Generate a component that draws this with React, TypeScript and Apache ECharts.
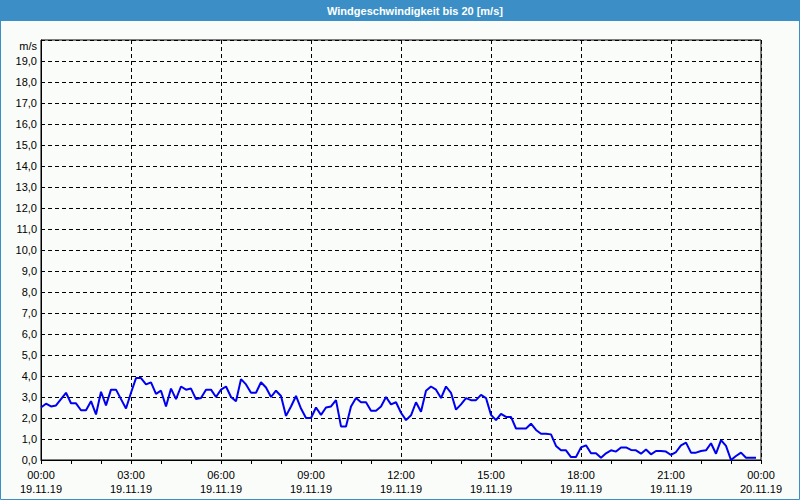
import React, { useEffect, useRef } from "react";
import * as echarts from "echarts";

const chartTitle = "Windgeschwindigkeit bis 20 [m/s]";
const unitLabel = "m/s";
const stepMinutes = 10;
const xTimeLabels = ["00:00", "03:00", "06:00", "09:00", "12:00", "15:00", "18:00", "21:00", "00:00"];
const xDateLabels = ["19.11.19", "19.11.19", "19.11.19", "19.11.19", "19.11.19", "19.11.19", "19.11.19", "19.11.19", "20.11.19"];
const windSpeed = [
  2.5, 2.68, 2.55, 2.6, 2.9, 3.2, 2.7, 2.7, 2.37, 2.37, 2.8, 2.17, 3.25, 2.6, 3.35, 3.35, 2.9, 2.45, 3.2, 3.9, 3.9, 3.6, 3.7, 3.15,
  3.3, 2.55, 3.4, 2.9, 3.5, 3.35, 3.4, 2.9, 2.95, 3.35, 3.35, 3.0, 3.35, 3.5, 3.0, 2.8, 3.85, 3.6, 3.2, 3.2, 3.7, 3.45, 3.0, 3.3,
  3.05, 2.1, 2.55, 3.05, 2.45, 2.0, 2.0, 2.5, 2.15, 2.5, 2.55, 2.85, 1.6, 1.6, 2.55, 2.95, 2.75, 2.75, 2.35, 2.35, 2.55, 3.0, 2.65, 2.75,
  2.25, 1.9, 2.13, 2.75, 2.3, 3.3, 3.5, 3.35, 2.95, 3.5, 3.2, 2.4, 2.65, 2.95, 2.85, 2.85, 3.1, 2.95, 2.15, 1.9, 2.2, 2.05, 2.05, 1.5,
  1.5, 1.5, 1.73, 1.43, 1.25, 1.25, 1.22, 0.67, 0.46, 0.46, 0.14, 0.14, 0.6, 0.7, 0.32, 0.32, 0.11, 0.32, 0.46, 0.4, 0.6, 0.6, 0.48, 0.46,
  0.3, 0.5, 0.27, 0.43, 0.43, 0.4, 0.24, 0.38, 0.7, 0.83, 0.35, 0.35, 0.43, 0.46, 0.8, 0.3, 0.95, 0.67, 0.0, 0.19, 0.35, 0.11, 0.11, 0.11,
];

const FONT = "Liberation Sans";

export default function App() {
  const ref = useRef<HTMLDivElement>(null);
  useEffect(() => {
    document.body.style.margin = "0";
    const chart = echarts.init(ref.current!, null, { renderer: "svg" });
    const data = windSpeed.map((v, i) => [i * stepMinutes, v]);
    chart.setOption({
      animation: false,
      backgroundColor: "#fafcfa",
      grid: {
        left: 41,
        right: 39,
        top: 40,
        bottom: 40,
        show: true,
        borderColor: "#000",
        borderWidth: 1,
        backgroundColor: "transparent",
      },
      graphic: [
        { type: "rect", shape: { x: 0, y: 0, width: 800, height: 21 }, style: { fill: "#3b8fc6" }, z: 10 },
        {
          type: "rect",
          shape: { x: 0.5, y: 0.5, width: 799, height: 499 },
          style: { fill: "none", stroke: "#3b8fc6", lineWidth: 1 },
          z: 10,
        },
        {
          type: "text",
          x: 415,
          y: 10.5,
          z: 11,
          style: {
            text: chartTitle,
            fill: "#fff",
            font: `bold 11px "${FONT}"`,
            textAlign: "center",
            textVerticalAlign: "middle",
          },
        },
        {
          type: "text",
          x: 37,
          y: 46,
          z: 11,
          style: {
            text: unitLabel,
            fill: "#000",
            font: `11px "${FONT}"`,
            textAlign: "right",
            textVerticalAlign: "middle",
          },
        },
      ],
      xAxis: {
        type: "value",
        min: 0,
        max: 1440,
        interval: 180,
        axisLine: { show: true, lineStyle: { color: "#000", width: 1 } },
        axisTick: { show: true, length: 4, lineStyle: { color: "#000" } },
        minorTick: { show: true, splitNumber: 3, length: 4, lineStyle: { color: "#000" } },
        splitLine: { show: true, lineStyle: { color: "#000", type: [4, 3], width: 1 } },
        axisLabel: {
          margin: 8,
          color: "#000",
          fontFamily: FONT,
          fontSize: 11,
          lineHeight: 14,
          showMinLabel: true,
          showMaxLabel: true,
          formatter: (v: number) => {
            const idx = Math.round(v / 180);
            return `${xTimeLabels[idx]}\n${xDateLabels[idx]}`;
          },
        },
      },
      yAxis: {
        type: "value",
        min: 0,
        max: 20,
        interval: 1,
        axisLine: { show: true, lineStyle: { color: "#000", width: 1 } },
        axisTick: { show: false },
        splitLine: { show: true, lineStyle: { color: "#000", type: [4, 3], width: 1 } },
        axisLabel: {
          margin: 4,
          color: "#000",
          fontFamily: FONT,
          fontSize: 11,
          formatter: (v: number) => (v >= 20 ? "" : v.toFixed(1).replace(".", ",")),
        },
      },
      series: [
        {
          type: "line",
          data,
          showSymbol: false,
          symbol: "none",
          lineStyle: { color: "#0000f0", width: 2 },
          z: 5,
        },
      ],
    });
    return () => chart.dispose();
  }, []);
  return <div ref={ref} style={{ position: "absolute", left: 0, top: 0, width: 800, height: 500 }} />;
}
